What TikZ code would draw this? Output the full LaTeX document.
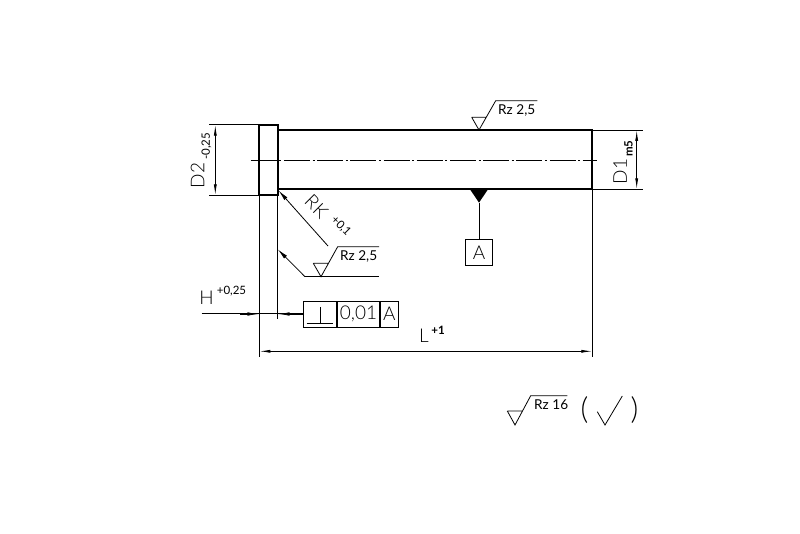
\documentclass[tikz,border=0pt]{standalone}
\usepackage{fontspec}
\setmainfont{Lato Light}
\newfontfamily\regfont{Lato}
\usetikzlibrary{arrows.meta, calc}

\begin{document}
\begin{tikzpicture}[
    x=1pt, y=-1pt,
    thick line/.style={draw, line width=2pt},
    thin line/.style={draw, line width=0.8pt},
    dim/.style={draw, line width=0.8pt, {Latex[length=11pt,width=3pt]}-{Latex[length=11pt,width=3pt]}},
    leader/.style={draw, line width=0.8pt, {Latex[length=11pt,width=4pt]}-},
    axis/.style={draw, line width=0.7pt, dash pattern=on 26pt off 2.6pt on 2pt off 2.6pt},
    big/.style={inner sep=0pt, font=\fontsize{19}{19}\selectfont},
    small/.style={inner sep=0pt, font=\regfont\fontsize{11.5}{12}\selectfont},
    rz/.style={inner sep=0pt, anchor=base west, font=\regfont\fontsize{13.6}{14}\selectfont},
    cell/.style={draw, line width=0.8pt, inner sep=0pt, minimum height=26pt, font=\fontsize{19}{19}\selectfont}
]
\useasboundingbox (0,0) rectangle (800,534);

% Pin outline
\coordinate (headtl) at (259.3,124.7);
\coordinate (headbr) at (277.7,195.3);
\coordinate (shafttl) at (277.7,130);
\coordinate (shaftbr) at (592.3,189.3);
\path[thick line] (headtl) rectangle (headbr);
\path[thick line] (shafttl) rectangle (shaftbr);
\path[axis] (250.7,160) -- (596.7,160);

% Extension lines
\path[thin line] (209,124.7) -- (headtl);
\path[thin line] (209,195.3) -- (259.3,195.3);
\path[thin line] (shaftbr |- shafttl) -- (642.7,130);
\path[thin line] (shaftbr) -- (642.7,189.3);
\path[thin line] (259.3,195.3) -- (259.3,356.7);
\path[thin line] (headbr) -- (277.7,319.3);
\path[thin line] (shaftbr) -- (592.3,356.7);

% Dimensions
\path[dim] (215.3,124.7) -- (215.3,195.3);
\path[dim] (636.7,130) -- (636.7,189.3);
\path[dim] (259.3,351.3) -- (592.3,351.3);
\node[big, rotate=90] (dtwo) at (197.5,175.5) {D2};
\node[small, rotate=90] (dtwotol) at (206.5,146.5) {-0,25};
\node[big, rotate=90] (done) at (620,171.5) {D1};
\node[small, rotate=90] (donetol) at (628.5,148.5) {\bfseries m5};
\node[big] (lenl) at (424,336) {L};
\node[small] (lentol) at (438,330) {\bfseries +1};
\node[big] (hgt) at (206.5,298) {H};
\node[small] (hgttol) at (231.5,291) {+0,25};
\node[big, rotate=-45] (rk) at (316.5,206.5) {RK};
\node[small, rotate=-45] (rktol) at (341,226) {+0,1};

% Tolerance frame
\node[cell, minimum width=33.4pt] (fsym) at (320,314) {};
\node[cell, minimum width=42pt, anchor=west] (fval) at (fsym.east) {0,01};
\node[cell, minimum width=18pt, anchor=west] (fdat) at (fval.east) {A};
\coordinate (pbase) at (320,323.3);
\path[thin line] (306.7,323.3) -- (333.3,323.3);
\path[thin line] (320,307) -- (pbase);
\path[draw, line width=1pt] (201.7,314) -- (fsym.west);
\path[draw, -{Latex[length=12pt,width=3.5pt]}, line width=0.8pt] (240,314) -- (259.3,314);
\path[draw, -{Latex[length=12pt,width=3.5pt]}, line width=0.8pt] (fsym.west) -- (277.7,314);

% Rounded edge leaders
\coordinate (rkend) at (328,246);
\path[leader] (278.5,190.5) -- (rkend);
\coordinate (rztwo) at (305,276.7);
\path[leader] (277.7,249.3) -- (rztwo);
\path[thin line] (rztwo) -- (379,276.7);

% Surface marks
\path[thin line] (313.3,263.3) -- (328.3,263.3) (313.3,263.3) -- (321,276.7) -- (337.7,246.7) -- (379,246.7);
\node[rz] (rzb) at (340,261) {Rz 2,5};
\path[thin line] (471.7,117.3) -- (485.7,117.3) (471.7,117.3) -- (479,130) -- (495.7,100.7) -- (537.3,100.7);
\node[rz] (rza) at (498,115) {Rz 2,5};
\path[thin line] (507.3,411) -- (522.7,411) (507.3,411) -- (515,425) -- (530.7,395.7) -- (567.3,395.7);
\node[rz] (rzc) at (534,409) {Rz 16};

% Parentheses and tick
\node[inner sep=0pt, font=\fontsize{30}{30}\selectfont] (pleft) at (584.5,410) {(};
\node[inner sep=0pt, font=\fontsize{30}{30}\selectfont] (pright) at (634.5,410) {)};
\path[thin line] (597.3,411.7) -- (605,425) -- (622.3,396);

% Datum
\node[draw, line width=0.8pt, minimum size=26.5pt, inner sep=0pt, font=\fontsize{19}{19}\selectfont] (datum) at (479,252.3) {A};
\coordinate (dtip) at (479,202.7);
\path[fill=black] (470,189.3) -- (488,189.3) -- (dtip) -- cycle;
\path[thin line] (dtip) -- (datum.north);
\end{tikzpicture}
\end{document}
